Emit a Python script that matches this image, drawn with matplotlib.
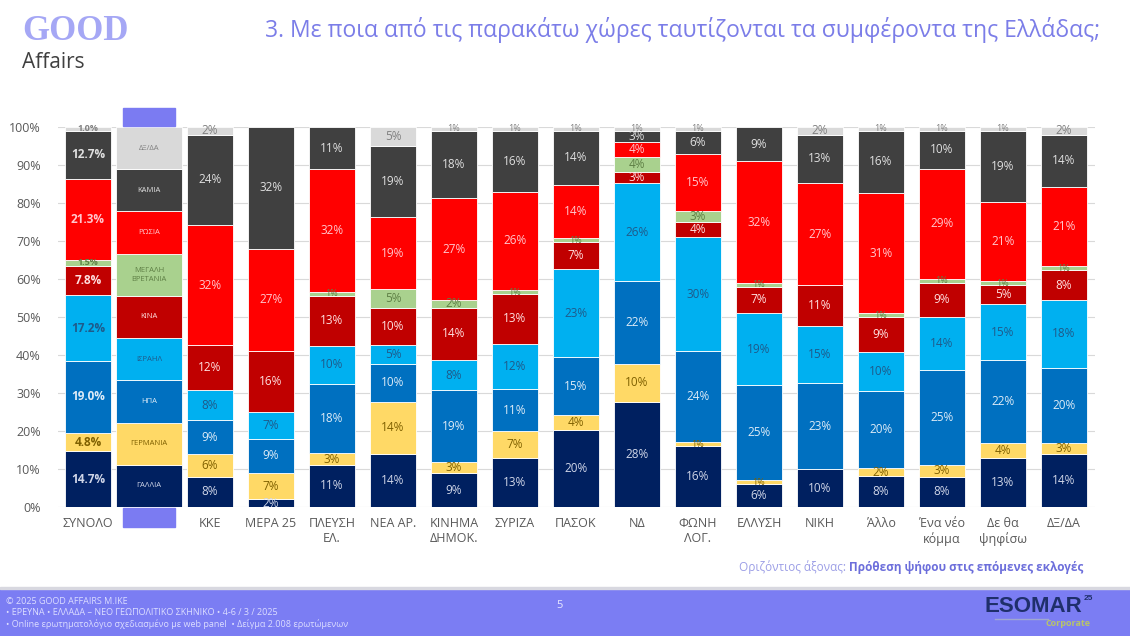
import matplotlib
matplotlib.use('Agg')
import matplotlib.pyplot as plt
import numpy as np
from matplotlib.patches import Rectangle

plt.rcParams['font.family'] = ['Open Sans', 'DejaVu Sans']

# categories along the x axis ('' = legend column)
categories = ['ΣΥΝΟΛΟ', '', 'ΚΚΕ', 'ΜΕΡΑ 25', 'ΠΛΕΥΣΗ\nΕΛ.', 'ΝΕΑ ΑΡ.', 'ΚΙΝΗΜΑ\nΔΗΜΟΚ.',
              'ΣΥΡΙΖΑ', 'ΠΑΣΟΚ', 'ΝΔ', 'ΦΩΝΗ\nΛΟΓ.', 'ΕΛΛΥΣΗ', 'ΝΙΚΗ', 'Άλλο',
              'Ένα νέο\nκόμμα', 'Δε θα\nψηφίσω', 'ΔΞ/ΔΑ']

series = ['ΓΑΛΛΙΑ', 'ΓΕΡΜΑΝΙΑ', 'ΗΠΑ', 'ΙΣΡΑΗΛ', 'ΚΙΝΑ', 'ΜΕΓΑΛΗ\nΒΡΕΤΑΝΙΑ',
          'ΡΩΣΙΑ', 'ΚΑΜΙΑ', 'ΔΞ/ΔΑ']

# values per series, one per category (legend column = None)
gallia    = [14.7, None, 8, 2, 11, 14, 9, 13, 20, 28, 16, 6, 10, 8, 8, 13, 14]
germania  = [4.8, None, 6, 7, 3, 14, 3, 7, 4, 10, 1, 1, 0, 2, 3, 4, 3]
ipa       = [19.0, None, 9, 9, 18, 10, 19, 11, 15, 22, 24, 25, 23, 20, 25, 22, 20]
israil    = [17.2, None, 8, 7, 10, 5, 8, 12, 23, 26, 30, 19, 15, 10, 14, 15, 18]
kina      = [7.8, None, 12, 16, 13, 10, 14, 13, 7, 3, 4, 7, 11, 9, 9, 5, 8]
vretania  = [1.5, None, 0, 0, 1, 5, 2, 1, 1, 4, 3, 1, 0, 1, 1, 1, 1]
rosia     = [21.3, None, 32, 27, 32, 19, 27, 26, 14, 4, 15, 32, 27, 31, 29, 21, 21]
kamia     = [12.7, None, 24, 32, 11, 19, 18, 16, 14, 3, 6, 9, 13, 16, 10, 19, 14]
dxda      = [1.0, None, 2, 0, 0, 5, 1, 1, 1, 1, 1, 0, 2, 1, 1, 1, 2]

values = [gallia, germania, ipa, israil, kina, vretania, rosia, kamia, dxda]

colors = ['#002060', '#FFD966', '#0070C0', '#00B0F0', '#C00000', '#A9D18E',
          '#FF0000', '#404040', '#D9D9D9']
text_colors = ['#D0D6E8', '#7F6000', '#DDEBF7', '#1F5A8A', '#FFE0E0', '#5E7F45',
               '#FFC7CE', '#E0E0E0', '#808080']

fig = plt.figure(figsize=(11.3, 6.36), dpi=100)
ax = fig.add_axes([57.5 / 1130, 129 / 636, 1037 / 1130, 380 / 636])

x = np.arange(len(categories))
bar_w = 0.77
legend_i = 1

for i in x:
    if i == legend_i:
        # legend column: equal blocks with series names
        bottom = 0
        h = 100 / len(series)
        for s in range(len(series)):
            ax.bar(i, h, bottom=bottom, width=1.08, color=colors[s],
                   edgecolor='white', linewidth=0.6)
            ax.text(i, bottom + h / 2, series[s], ha='center', va='center',
                    fontsize=5.5, color=text_colors[s], linespacing=1.3)
            bottom += h
        continue
    col = [values[s][i] for s in range(len(series))]
    total = sum(col)
    bottom = 0
    for s, v in enumerate(col):
        if v <= 0:
            continue
        h = v * 100 / total
        ax.bar(i, h, bottom=bottom, width=bar_w, color=colors[s],
               edgecolor='white', linewidth=0.6)
        if i == 0:
            lbl = '{:.1f}%'.format(v)
            fw = 'bold'
        else:
            lbl = '{:.0f}%'.format(v)
            fw = 'normal'
        fs = 8.5 if v >= 2 else 6.5
        ax.text(i, bottom + h / 2, lbl, ha='center', va='center',
                fontsize=fs, color=text_colors[s], fontweight=fw)
        bottom += h

# purple markers above and below the legend column
ax.add_patch(Rectangle((legend_i - 0.42, 100.3), 0.84, 4.6, color='#7B7BF2',
                       clip_on=False, zorder=3))
ax.add_patch(Rectangle((legend_i - 0.42, -5.2), 0.84, 5.0, color='#7B7BF2',
                       clip_on=False, zorder=3))

ax.set_xlim(-0.5, 16.5)
ax.set_ylim(0, 100)
ax.set_yticks(np.arange(0, 101, 10))
ax.set_yticklabels(['{}%'.format(v) for v in range(0, 101, 10)])
ax.set_xticks(x)
ax.set_xticklabels(categories)
ax.tick_params(axis='both', length=0, colors='#595959', labelsize=9)
ax.tick_params(axis='y', pad=12)
ax.tick_params(axis='x', pad=7)
ax.yaxis.grid(True, color='#D9D9D9', linewidth=0.8)
ax.set_axisbelow(True)
for sp in ax.spines.values():
    sp.set_visible(False)

# header
fig.text(22 / 1130, 1 - 31 / 636, 'GOOD', fontsize=25, fontweight='bold',
         family='Liberation Serif', color='#A5A7F5', va='center', ha='left')
fig.text(22 / 1130, 1 - 63 / 636, 'Affairs', fontsize=15, color='#404040',
         va='center', ha='left')
fig.text(1100 / 1130, 1 - 30 / 636,
         '3. Με ποια από τις παρακάτω χώρες ταυτίζονται τα συμφέροντα της Ελλάδας;',
         fontsize=16.5, color='#7B7DE8', ha='right', va='center')

# axis note
r = fig.canvas.get_renderer()
t_bold = fig.text(1083 / 1130, 1 - 567 / 636, 'Πρόθεση ψήφου στις επόμενες εκλογές',
                  fontsize=8.5, fontweight='bold', color='#6C6EDB',
                  ha='right', va='center')
bb = t_bold.get_window_extent(renderer=r)
fig.text((bb.x0 - 3) / 1130, 1 - 567 / 636, 'Οριζόντιος άξονας:', fontsize=8.5,
         color='#9C9EE6', ha='right', va='center')

# footer band
fig.patches.append(Rectangle((0, 0), 1, 47 / 636, transform=fig.transFigure,
                             color='#7B7DF3', zorder=0))
fig.patches.append(Rectangle((0, 47 / 636), 1, 2 / 636, transform=fig.transFigure,
                             color='#D8D8E0', zorder=0))
foot = ['© 2025 GOOD AFFAIRS M.IKE',
        '• ΕΡΕΥΝΑ • ΕΛΛΑΔΑ – ΝΕΟ ΓΕΩΠΟΛΙΤΙΚΟ ΣΚΗΝΙΚΟ • 4-6 / 3 / 2025',
        '• Online ερωτηματολόγιο σχεδιασμένο με web panel  • Δείγμα 2.008 ερωτώμενων']
for k, line in enumerate(foot):
    fig.text(6 / 1130, 1 - (601 + k * 11.5) / 636, line, fontsize=6.5,
             color='#DCDDFF', va='center', ha='left')
fig.text(560 / 1130, 1 - 606 / 636, '5', fontsize=8, color='#E8E8FF',
         ha='center', va='center')
fig.text(1082 / 1130, 1 - 606 / 636, 'ESOMAR', fontsize=16, fontweight='bold',
         color='#1F2F6B', ha='right', va='center', family='Liberation Sans')
fig.text(1084 / 1130, 1 - 598 / 636, '25', fontsize=6, fontweight='bold',
         color='#1F2F6B', ha='left', va='center', family='Liberation Sans')
fig.text(1090 / 1130, 1 - 623 / 636, 'Corporate', fontsize=6.5, fontweight='bold',
         color='#B8C46A', ha='right', va='center')
fig.lines.append(plt.Line2D([995 / 1130, 1048 / 1130], [1 - 619 / 636, 1 - 619 / 636],
                            transform=fig.transFigure, color='#A0A8D0', linewidth=1))

fig.savefig('out.png', dpi=100)
